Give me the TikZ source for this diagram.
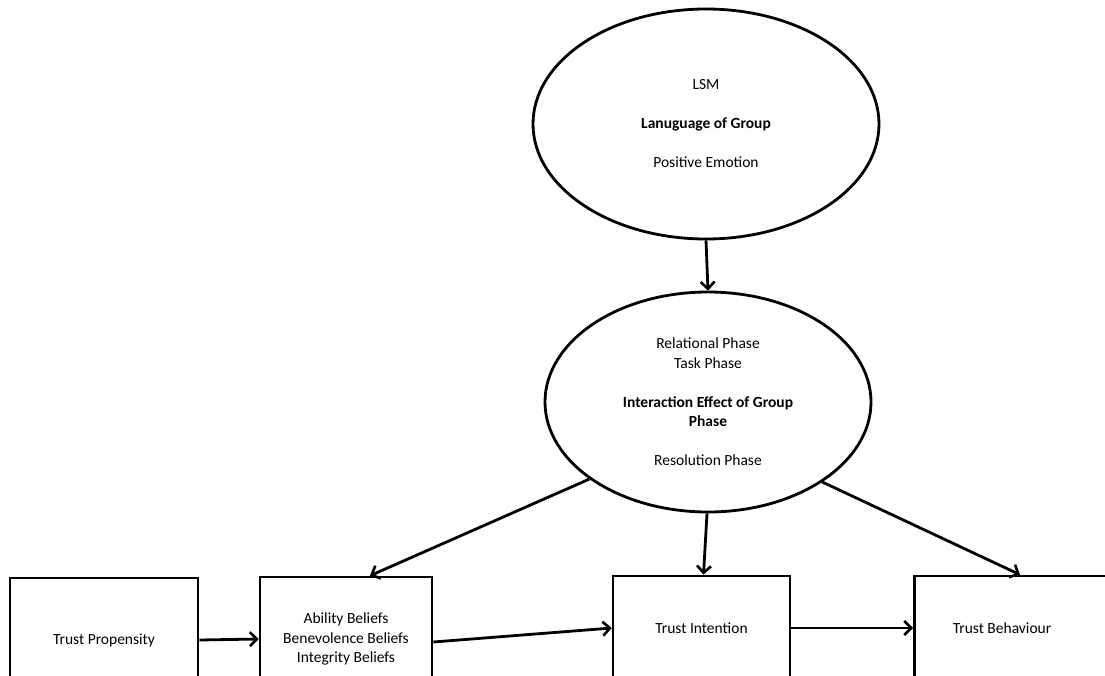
\documentclass[tikz,border=0pt]{standalone}
\usepackage{fontspec}
\setmainfont{Carlito}
\usetikzlibrary{arrows.meta,shapes.geometric}
\begin{document}
\begin{tikzpicture}[x=1pt,y=-1pt,
  txt/.style={font=\fontsize{15.5}{19.5}\selectfont, align=center},
  oval/.style={txt, draw, ellipse, line width=2.8pt, inner sep=0pt},
  box/.style={txt, draw, rectangle, line width=2.6pt, inner sep=0pt},
  conn/.style={line width=2.8pt, -{Straight Barb[length=7pt,width=14pt,line width=2.6pt]}}]
\path[fill=white] (0,0) rectangle (1105,675);
\clip (0,0) rectangle (1105,675);
\node[oval, minimum width=346pt, minimum height=230pt] (lsm) at (706,124)
  {LSM\\[19.5pt]\textbf{Lanuguage of Group}\\[19.5pt]Positive Emotion};
\node[oval, minimum width=326pt, minimum height=220pt] (phase) at (708,402)
  {Relational Phase\\Task Phase\\[19.5pt]\textbf{Interaction Effect of Group}\\\textbf{Phase}\\[19.5pt]Resolution Phase};
\node[box, minimum width=188pt, minimum height=124pt] (b1) at (104,640) {Trust Propensity};
\node[box, minimum width=172pt, minimum height=124pt] (b2) at (346,639) {Ability Beliefs\\Benevolence Beliefs\\Integrity Beliefs};
\node[box, minimum width=177pt, minimum height=104pt] (b3) at (701.5,628) {Trust Intention};
\node[box, minimum width=200pt, minimum height=104pt, anchor=west] (b4) at (913,628) {};
\node[txt] (b4t) at (1002,628) {Trust Behaviour};
\draw[conn] (lsm.south) -- (phase.north);
\draw[conn] (phase.213.5) -- ([xshift=24pt]b2.north);
\draw[conn] ([xshift=-1pt]phase.south) -- ([xshift=2pt]b3.north);
\draw[conn] (phase.325.6) -- ([xshift=107pt]b4.north west);
\draw[conn] (b1.east) -- (b2.west);
\draw[conn] ([yshift=-3pt]b2.east) -- (b3.west);
\draw[conn] (b3.east) -- (b4.west);
\end{tikzpicture}
\end{document}
